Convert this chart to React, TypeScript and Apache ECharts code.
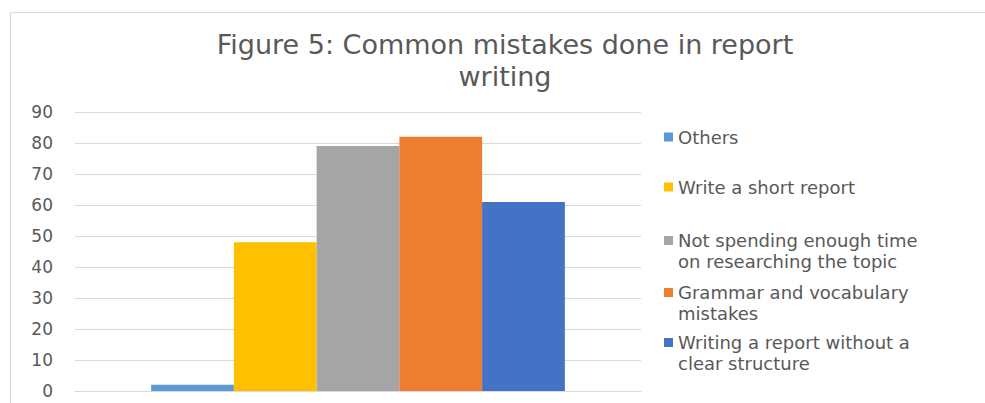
import React, { useEffect, useRef } from "react";
import * as echarts from "echarts";

const categories = ["Mistakes"];
const seriesNames = [
  "Others",
  "Write a short report",
  "Not spending enough time on researching the topic",
  "Grammar and vocabulary mistakes",
  "Writing a report without a clear structure",
];
const legendLabels = [
  "Others",
  "Write a short report",
  "Not spending enough time\non researching the topic",
  "Grammar and vocabulary\nmistakes",
  "Writing a report without a\nclear structure",
];
const seriesValues = [2, 48, 79, 82, 61];
const seriesColors = ["#5B9BD5", "#FFC000", "#A5A5A5", "#ED7D31", "#4472C4"];
const yTicks = { min: 0, max: 90, interval: 10 };
const titleText = "Figure 5: Common mistakes done in report\nwriting";

const legendFirstLineCenters = [137, 187, 241, 293, 343];

export default function App() {
  const ref = useRef<HTMLDivElement>(null);
  useEffect(() => {
    if (!ref.current) return;
    const chart = echarts.init(ref.current, null, { renderer: "svg" });
    const textColor = "#595959";
    const lh = 21;
    const legends = seriesNames.map((name, i) => {
      const twoLine = legendLabels[i].includes("\n");
      const c = legendFirstLineCenters[i];
      // two-line entries: a leading empty line keeps the marker on the first line
      const label = twoLine ? "\n" + legendLabels[i] : legendLabels[i];
      return {
        show: true,
        left: 664,
        top: twoLine ? c - 4.5 - 1.5 * lh + 4 : c - 10.5,
        padding: 0,
        orient: "vertical",
        itemWidth: 9,
        itemHeight: 9,
        itemGap: 0,
        icon: "rect",
        selectedMode: false,
        data: [name],
        formatter: () => label,
        textStyle: {
          color: textColor,
          fontFamily: "DejaVu Sans",
          fontSize: 18,
          lineHeight: lh,
        },
      };
    });
    chart.setOption({
      animation: false,
      backgroundColor: "#ffffff",
      title: {
        text: titleText,
        left: 505,
        top: 28,
        textAlign: "center",
        padding: 0,
        textStyle: {
          color: textColor,
          fontFamily: "DejaVu Sans",
          fontWeight: "normal",
          fontSize: 27,
          lineHeight: 32,
        },
      },
      legend: legends,
      grid: { left: 75, right: 344, top: 112, bottom: 12, containLabel: false },
      xAxis: {
        type: "category",
        data: categories,
        axisLine: { show: true, lineStyle: { color: "#d9d9d9", width: 1 } },
        axisTick: { show: false },
        axisLabel: { show: false },
      },
      yAxis: {
        type: "value",
        min: yTicks.min,
        max: yTicks.max,
        interval: yTicks.interval,
        axisLine: { show: false },
        axisTick: { show: false },
        splitLine: { lineStyle: { color: "#d9d9d9", width: 1 } },
        axisLabel: {
          color: textColor,
          fontFamily: "DejaVu Sans",
          fontSize: 17,
          margin: 22,
        },
      },
      graphic: [
        {
          type: "rect",
          shape: { x: 10.5, y: 12.5, width: 980, height: 400 },
          style: { fill: "none", stroke: "#d9d9d9", lineWidth: 1 },
          silent: true,
        },
      ],
      series: seriesNames.map((name, i) => ({
        name,
        type: "bar",
        data: [seriesValues[i]],
        barGap: "0%",
        barCategoryGap: "26.9%",
        itemStyle: { color: seriesColors[i] },
      })),
    });
    return () => chart.dispose();
  }, []);
  return (
    <div
      ref={ref}
      style={{ position: "fixed", left: 0, top: 0, width: 985, height: 403 }}
    />
  );
}
